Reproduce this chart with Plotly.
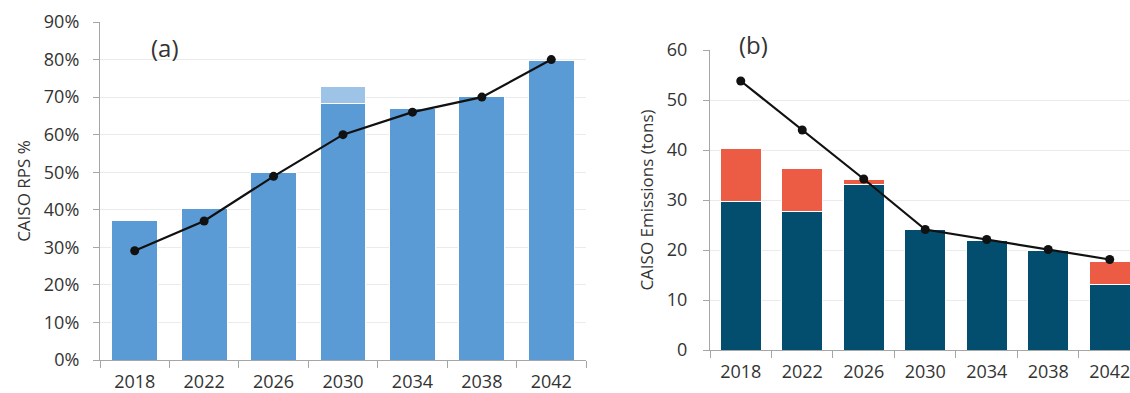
import plotly.graph_objects as go

years = ["2018", "2022", "2026", "2030", "2034", "2038", "2042"]

# Panel (a): CAISO RPS %
rps_base = [0.371, 0.404, 0.498, 0.683, 0.669, 0.701, 0.798]
rps_extra = [0, 0, 0, 0.044, 0, 0, 0]
rps_line = [0.291, 0.370, 0.489, 0.600, 0.660, 0.700, 0.800]

# Panel (b): CAISO emissions (tons)
em_base = [29.7, 27.7, 33.1, 24.1, 22.0, 20.0, 13.1]
em_extra = [10.6, 8.6, 1.1, 0, 0, 0, 4.7]
em_line = [53.8, 44.0, 34.2, 24.1, 22.1, 20.1, 18.1]

FONT = "Open Sans"
W, H = 1130, 393
TXT = "#333333"

fig = go.Figure()

fig.add_trace(go.Bar(x=years, y=rps_base, marker=dict(color="#5B9BD5", line=dict(color="white", width=1)),
                     xaxis="x", yaxis="y", showlegend=False))
fig.add_trace(go.Bar(x=years, y=rps_extra, marker=dict(color="#9DC3E6", line=dict(color="white", width=1)),
                     xaxis="x", yaxis="y", showlegend=False))
fig.add_trace(go.Scatter(x=years, y=rps_line, mode="lines+markers", line=dict(color="#111111", width=2.2),
                         marker=dict(color="#111111", size=9), xaxis="x", yaxis="y", showlegend=False))

fig.add_trace(go.Bar(x=years, y=em_base, marker=dict(color="#034E6E", line=dict(color="white", width=1)),
                     xaxis="x2", yaxis="y2", showlegend=False))
fig.add_trace(go.Bar(x=years, y=em_extra, marker=dict(color="#EC5B43", line=dict(color="white", width=1)),
                     xaxis="x2", yaxis="y2", showlegend=False))
fig.add_trace(go.Scatter(x=years, y=em_line, mode="lines+markers", line=dict(color="#111111", width=2.2),
                         marker=dict(color="#111111", size=9), xaxis="x2", yaxis="y2", showlegend=False))

axis_common = dict(showline=True, linecolor="#A6A6A6", linewidth=1.2,
                   tickfont=dict(family=FONT, size=18, color=TXT), automargin=False)

fig.update_layout(
    width=W, height=H,
    margin=dict(l=0, r=0, t=0, b=0),
    paper_bgcolor="white", plot_bgcolor="white",
    barmode="stack", bargap=0.34,
    font=dict(family=FONT, color=TXT),
    xaxis=dict(domain=[100 / W, 586 / W], anchor="y", type="category", range=[-0.5, 6.5],
               ticks="outside", tickson="boundaries", ticklen=7, tickcolor="#A6A6A6",
               ticklabelstandoff=5, showgrid=False, **axis_common),
    yaxis=dict(domain=[1 - 360 / H, 1 - 22 / H], anchor="x", range=[0, 0.9], dtick=0.1,
               tickformat=".0%", ticks="outside", ticklen=6, tickcolor="#A6A6A6", ticklabelstandoff=10,
               showgrid=True, gridcolor="#EBEBEB", gridwidth=1, zeroline=False,
               title=dict(text="CAISO RPS %", font=dict(family=FONT, size=17, color=TXT), standoff=8),
               **axis_common),
    xaxis2=dict(domain=[710 / W, 1.0], anchor="y2", type="category", range=[-0.5, 6.33],
                ticks="outside", tickson="boundaries", ticklen=7, tickcolor="#A6A6A6",
                ticklabelstandoff=5, showgrid=False, **axis_common),
    yaxis2=dict(domain=[1 - 350 / H, 1 - 50 / H], anchor="x2", range=[0, 60], dtick=10,
                ticks="outside", ticklen=6, tickcolor="#A6A6A6", ticklabelstandoff=12,
                showgrid=True, gridcolor="#EBEBEB", gridwidth=1, zeroline=False,
                title=dict(text="CAISO Emissions (tons)", font=dict(family=FONT, size=17, color=TXT), standoff=8),
                **axis_common),
    annotations=[
        dict(text="(a)", x=165 / W, y=1 - 47 / H, xref="paper", yref="paper", showarrow=False,
             xanchor="center", yanchor="middle", font=dict(family=FONT, size=24, color=TXT)),
        dict(text="(b)", x=754 / W, y=1 - 45 / H, xref="paper", yref="paper", showarrow=False,
             xanchor="center", yanchor="middle", font=dict(family=FONT, size=24, color=TXT)),
    ],
)

fig.write_html("out.html")
